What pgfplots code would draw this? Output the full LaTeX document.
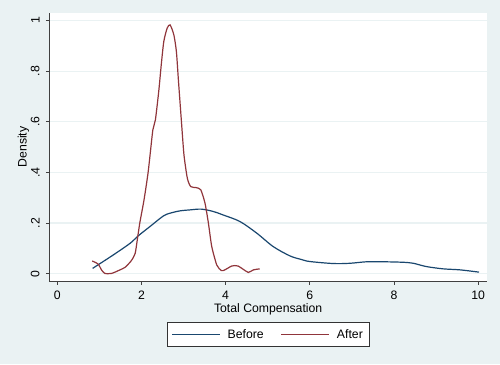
\documentclass[border=0pt]{standalone}
\usepackage{fontspec}
\setmainfont{Liberation Sans}
\usepackage{pgfplots}
\pgfplotsset{compat=1.18}
\definecolor{bgc}{RGB}{234,242,243}
\definecolor{gridc}{RGB}{234,242,243}
\definecolor{stnavy}{RGB}{26,71,111}
\definecolor{stmaroon}{RGB}{144,53,59}
\newcommand{\ff}{\fontsize{12.3}{14.8}\selectfont}
\begin{document}
\begin{tikzpicture}[x=1bp,y=1bp]
\fill[bgc] (0,0) rectangle (500,364);
\begin{axis}[
  at={(49.3bp,83bp)}, anchor=south west,
  scale only axis, width=437.7bp, height=268bp,
  xmin=-0.19, xmax=10.21, ymin=-0.029, ymax=1.03,
  axis background/.style={fill=white},
  axis x line*=bottom, axis y line*=left,
  axis line style={draw=black!75, line width=1bp, -},
  xtick={0,2,4,6,8,10},
  ytick={0,0.2,0.4,0.6,0.8,1},
  yticklabels={0,.2,.4,.6,.8,1},
  tick align=outside, major tick length=3.5bp,
  tick style={draw=black!75, line width=1bp},
  ymajorgrids=true,
  major grid style={draw=gridc, line width=1.2bp},
  /pgf/number format/assume math mode=true,
  tick label style={font=\ff, text=black},
  xticklabel style={anchor=north, yshift=-3bp},
  yticklabel style={rotate=90, anchor=south, yshift=0bp, inner sep=6bp},
  label style={font=\ff},
  xlabel={Total Compensation},
  ylabel={Density},
  xlabel style={at={(axis description cs:0.5,-0.0709)}, anchor=north},
  ylabel style={at={(axis description cs:-0.0379,0.5)}, anchor=south},
  legend columns=2,
  legend style={at={(0.5,-0.199)}, anchor=center, draw=black!80, fill=white,
    line width=0.8bp, font=\ff, inner xsep=4.5bp, inner ysep=4.5bp,
    /tikz/every odd column/.append style={column sep=5bp},
    /tikz/every even column/.append style={column sep=15bp}},
  legend image code/.code={\draw[#1, line width=1.2bp] (0bp,0bp) -- (48bp,0bp);},
]
\addplot[stnavy, line width=1.2bp, smooth, tension=0.5] coordinates {
(0.84,0.021) (1.33,0.074) (1.73,0.120) (1.92,0.149) (2.20,0.186) (2.52,0.228)
(2.68,0.239) (2.91,0.248) (3.15,0.252) (3.42,0.255) (3.70,0.246) (3.94,0.232)
(4.34,0.206) (4.74,0.160) (5.13,0.107) (5.53,0.070) (5.80,0.056) (6.00,0.048)
(6.56,0.040) (6.95,0.041) (7.35,0.047) (7.74,0.047) (8.22,0.045) (8.46,0.041)
(8.77,0.028) (9.17,0.019) (9.57,0.015) (10.02,0.006)
};
\addlegendentry{Before}
\addplot[stmaroon, line width=1.2bp, smooth, tension=0.4] coordinates {
(0.83,0.050) (0.97,0.038) (1.05,0.015) (1.13,0.001) (1.29,0.001) (1.49,0.015)
(1.61,0.025) (1.70,0.040) (1.77,0.054) (1.85,0.080) (1.90,0.133) (1.96,0.200)
(2.06,0.291) (2.16,0.403) (2.27,0.568) (2.33,0.607) (2.41,0.720) (2.47,0.825)
(2.53,0.917) (2.61,0.970) (2.68,0.983) (2.77,0.943) (2.83,0.877) (2.88,0.759)
(2.95,0.600) (3.01,0.469) (3.09,0.377) (3.17,0.344) (3.30,0.340) (3.41,0.331)
(3.51,0.278) (3.59,0.200) (3.67,0.107) (3.79,0.034) (3.90,0.012) (3.98,0.015)
(4.14,0.030) (4.22,0.032) (4.30,0.030) (4.42,0.017) (4.54,0.005) (4.66,0.015)
(4.81,0.019)
};
\addlegendentry{After}
\end{axis}
\pgfresetboundingbox
\path[use as bounding box] (0,0) rectangle (500,364);
\end{tikzpicture}
\end{document}
